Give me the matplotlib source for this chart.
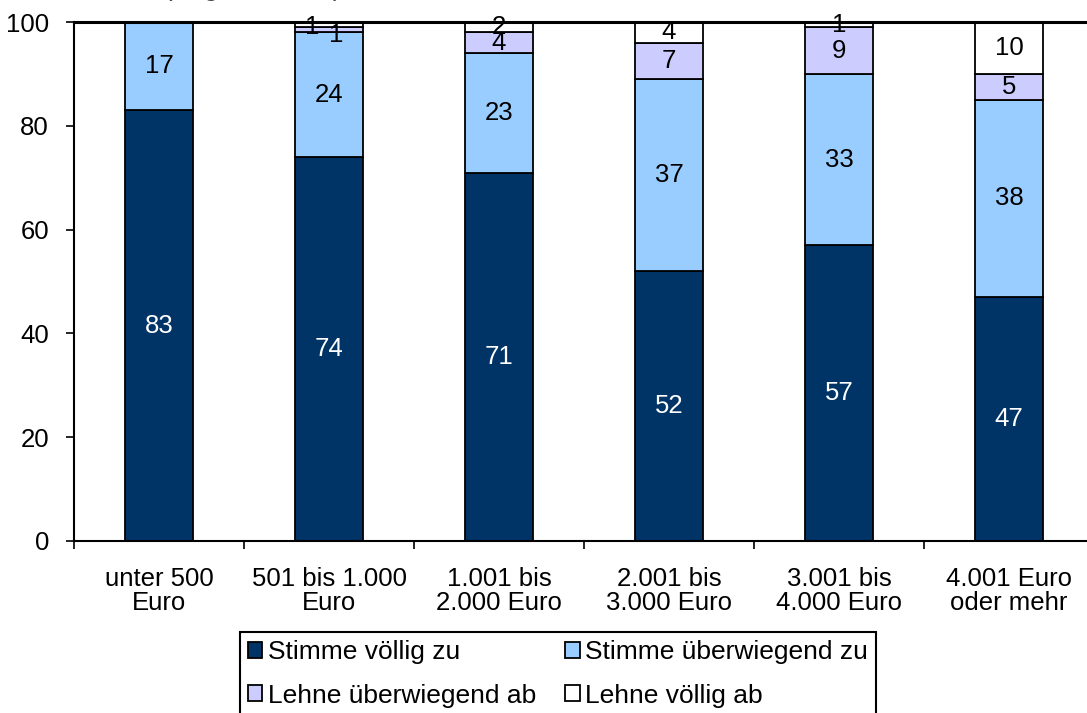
import numpy as np
import matplotlib.pyplot as plt

plt.rcParams['font.family'] = ['Liberation Sans', 'DejaVu Sans']

# ─── Data

categories = ['unter 500\nEuro', '501 bis 1.000\nEuro', '1.001 bis\n2.000 Euro',
              '2.001 bis\n3.000 Euro', '3.001 bis\n4.000 Euro', '4.001 Euro\noder mehr']
series_names = ['Stimme völlig zu', 'Stimme überwiegend zu',
                'Lehne überwiegend ab', 'Lehne völlig ab']
voellig_zu = [83, 74, 71, 52, 57, 47]
ueberwiegend_zu = [17, 24, 23, 37, 33, 38]
ueberwiegend_ab = [0, 1, 4, 7, 9, 5]
voellig_ab = [0, 1, 2, 4, 1, 10]

colors = ['#003366', '#99CCFF', '#CCCCFF', '#FFFFFF']
text_colors = ['white', 'black', 'black', 'black']

FS = 18.5

# ─── Figure

fig = plt.figure(figsize=(10.87, 7.13), dpi=100)
ax = fig.add_axes([74/1087, 1 - 541/713, 1020/1087, 519/713])

x = np.arange(len(categories))
bottom = np.zeros(len(categories))
for k, (vals, name) in enumerate(zip([voellig_zu, ueberwiegend_zu, ueberwiegend_ab, voellig_ab],
                                     series_names)):
  vals = np.array(vals, dtype=float)
  ax.bar(x, vals, width=0.4, bottom=bottom, color=colors[k],
         edgecolor='black', linewidth=1.3, label=name, zorder=2)
  for i, v in enumerate(vals):
    if v <= 0: continue
    xc, yc = x[i], bottom[i] + v/2
    # tiny segments in the second bar get nudged apart
    if i == 1 and k == 2: xc, yc = xc + 0.04, yc - 1.0
    if i == 1 and k == 3: xc, yc = xc - 0.1, yc - 0.5
    ax.text(xc, yc, f'{int(v)}', ha='center', va='center',
            fontsize=FS, color=text_colors[k], zorder=3)
  bottom += vals

# ─── Axes settings

ax.set_xlim(-0.5, 5.5)
ax.set_ylim(0, 100)
ax.set_yticks(np.arange(0, 101, 20))
ax.tick_params(axis='y', labelsize=FS, length=6, width=1.2, direction='out', pad=12)

ax.set_xticks(np.arange(-0.5, 6, 1))
ax.set_xticklabels([])
ax.tick_params(axis='x', which='major', length=6, width=1.2, direction='out')
ax.set_xticks(x, minor=True)
ax.set_xticklabels(categories, minor=True, fontsize=FS, linespacing=1.0)
ax.tick_params(axis='x', which='minor', length=0, pad=19)

for s in ['left', 'bottom', 'top']:
  ax.spines[s].set_linewidth(1.5)
ax.spines['top'].set_linewidth(2.2)
ax.spines['right'].set_visible(False)

# Subtitle, mostly above the top edge
fig.text(253/1087, 1 + 4/713, '(Angaben in %)', ha='center', va='baseline',
         fontsize=FS, color='#444444')

# Legend, filled row by row
h, l = ax.get_legend_handles_labels()
order = [0, 2, 1, 3]
leg = fig.legend([h[i] for i in order], [l[i] for i in order],
                 loc='upper left', bbox_to_anchor=(240/1087, 1 - 632/713),
                 ncol=2, fontsize=19, frameon=True, fancybox=False,
                 edgecolor='black', framealpha=1, handlelength=0.55,
                 handleheight=0.55, handletextpad=0.2, columnspacing=1.1,
                 borderpad=0.3, labelspacing=0.75, borderaxespad=0)
leg.get_frame().set_linewidth(1.5)

fig.savefig('out.png', dpi=100)
